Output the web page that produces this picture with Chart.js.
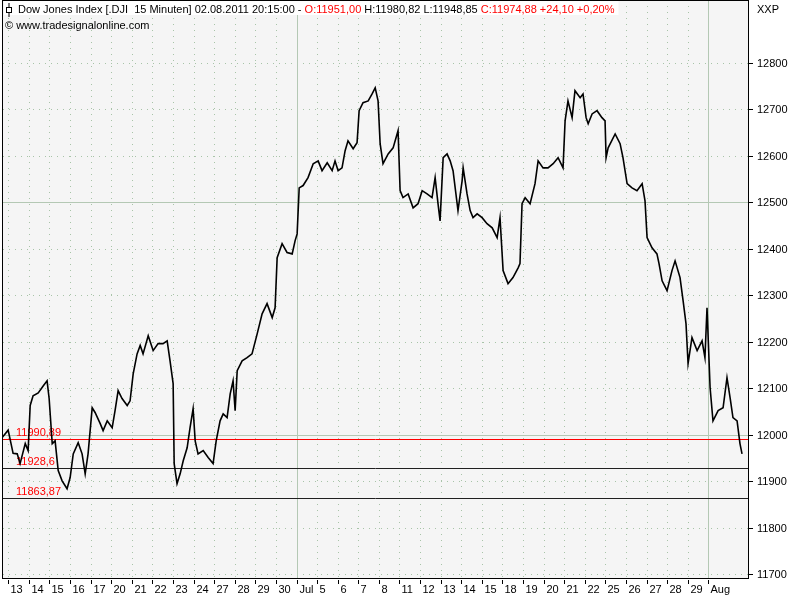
<!DOCTYPE html>
<html>
<head>
<meta charset="utf-8">
<script src="https://cdn.jsdelivr.net/npm/chart.js@4"></script>
<style>
  html, body { margin: 0; padding: 0; background: #fff; }
  #wrap { width: 800px; height: 600px; }
</style>
</head>
<body>
<div id="wrap"><canvas id="c" width="800" height="600"></canvas></div>
<script>
// Trading-day labels (one tick per session, starting 13 June 2011)
const dayLabels = ['13','14','15','16','17','20','21','22','23','24','27','28','29','30','Jul','5','6','7','8',
  '11','12','13','14','15','18','19','20','21','22','25','26','27','28','29','Aug'];
const yTicks = [11700,11800,11900,12000,12100,12200,12300,12400,12500,12600,12700,12800];

// Session offset (days since 13 June open) and index level
const days = [-0.29,0,0.24,0.44,0.58,0.83,0.97,1.07,1.21,1.46,1.70,1.89,1.99,2.14,2.28,2.43,2.62,2.86,3.01,3.16,
  3.40,3.59,3.74,3.88,4.08,4.22,4.47,4.61,4.81,5.05,5.19,5.34,5.53,5.78,5.92,6.07,6.26,6.41,6.55,6.80,
  7.04,7.28,7.52,7.72,7.86,8.01,8.06,8.20,8.35,8.50,8.69,8.83,8.98,9.08,9.22,9.47,9.71,9.95,10.10,10.29,
  10.44,10.63,10.78,10.92,11.02,11.12,11.36,11.60,11.84,12.09,12.33,12.57,12.82,12.96,13.06,13.30,13.54,13.79,13.93,14.03,
  14.13,14.32,14.56,14.81,15.05,15.24,15.49,15.73,15.87,16.02,16.21,16.36,16.50,16.75,16.94,17.04,17.23,17.48,17.67,17.82,
  17.96,18.06,18.20,18.45,18.69,18.93,19.03,19.17,19.42,19.66,19.90,20.10,20.34,20.58,20.73,20.87,20.97,21.12,21.31,21.46,
  21.60,21.84,22.04,22.09,22.28,22.43,22.57,22.77,23.01,23.25,23.50,23.74,23.88,24.03,24.27,24.51,24.76,24.85,24.95,25.10,
  25.34,25.58,25.73,25.97,26.21,26.46,26.70,26.94,27.04,27.18,27.38,27.52,27.77,27.91,28.06,28.16,28.35,28.59,28.83,28.98,
  29.03,29.13,29.47,29.71,29.85,30.05,30.29,30.53,30.78,30.92,31.02,31.26,31.50,31.60,31.75,31.99,32.23,32.38,32.62,32.77,
  32.91,33.01,33.20,33.45,33.69,33.83,33.93,34.08,34.22,34.47,34.71,34.90,35.05,35.19,35.39,35.53,35.63];
const closes = [11994,12010,11960,11959,11938,11981,11966,12063,12084,12090,12105,12116,12078,11981,11987,11923,11901,11884,11908,11959,
  11983,11959,11916,11959,12058,12048,12024,12009,12030,12015,12052,12095,12078,12063,12073,12131,12174,12192,12174,12213,
  12181,12196,12196,12202,12159,12110,11938,11895,11916,11944,11972,12015,12056,11987,11959,11966,11951,11938,11987,12030,
  12045,12037,12088,12116,12052,12138,12159,12166,12174,12217,12260,12282,12252,12273,12381,12411,12392,12389,12417,12432,
  12531,12536,12553,12583,12589,12568,12585,12568,12589,12568,12574,12611,12632,12615,12628,12697,12714,12718,12733,12746,
  12718,12626,12583,12604,12617,12654,12525,12510,12518,12488,12497,12525,12518,12510,12553,12497,12460,12596,12604,12589,
  12568,12482,12546,12574,12518,12482,12467,12475,12467,12454,12445,12424,12467,12353,12325,12338,12359,12368,12497,12510,
  12497,12540,12589,12574,12574,12583,12596,12574,12675,12718,12682,12740,12725,12733,12682,12669,12690,12697,12682,12675,
  12596,12617,12647,12626,12596,12540,12531,12525,12540,12503,12424,12402,12389,12368,12331,12310,12353,12374,12338,12288,
  12239,12153,12209,12181,12202,12166,12273,12101,12030,12052,12058,12123,12080,12037,12030,11981,11959];

const refLevels = [11990.89, 11928.6, 11863.87];
const refLabels = ['11990,89', '11928,6', '11863,87'];

const FONT = '11px "Liberation Sans", sans-serif';
const GRID = '#a8c4a8';

const overlay = {
  id: 'overlay',
  beforeDatasetsDraw(chart) {
    const { ctx, chartArea: a, scales: { x, y } } = chart;
    ctx.save();
    ctx.fillStyle = '#f5f5f5';
    ctx.fillRect(a.left, a.top, a.right - a.left, a.bottom - a.top);
    ctx.lineWidth = 1;
    // dotted grid
    ctx.strokeStyle = GRID;
    ctx.setLineDash([1, 5]);
    dayLabels.forEach((lab, i) => {
      if (lab === 'Jul' || lab === 'Aug') return;
      const px = Math.round(x.getPixelForValue(i)) + 0.5;
      ctx.beginPath(); ctx.moveTo(px, a.top); ctx.lineTo(px, a.bottom); ctx.stroke();
    });
    yTicks.forEach(v => {
      if (v === 12500 || v === 12000) return;
      const py = Math.round(y.getPixelForValue(v)) + 0.5;
      ctx.beginPath(); ctx.moveTo(a.left, py); ctx.lineTo(a.right, py); ctx.stroke();
    });
    ctx.setLineDash([]);
    ctx.strokeStyle = '#b4c8b4';
    ['Jul', 'Aug'].forEach(l => {
      const px = Math.round(x.getPixelForValue(dayLabels.indexOf(l))) + 0.5;
      ctx.beginPath(); ctx.moveTo(px, a.top); ctx.lineTo(px, a.bottom); ctx.stroke();
    });
    [12500, 12000].forEach(v => {
      const py = Math.round(y.getPixelForValue(v)) + 0.5;
      ctx.beginPath(); ctx.moveTo(a.left, py); ctx.lineTo(a.right, py); ctx.stroke();
    });
    // reference levels
    ctx.font = FONT;
    ctx.textBaseline = 'bottom';
    refLevels.forEach((v, i) => {
      const py = Math.round(y.getPixelForValue(v)) + 0.5;
      ctx.strokeStyle = i === 0 ? '#ff0000' : '#202020';
      ctx.beginPath(); ctx.moveTo(a.left, py); ctx.lineTo(a.right, py); ctx.stroke();
      ctx.fillStyle = '#ff0000';
      ctx.fillText(refLabels[i], a.left + 13, py - 1);
    });
    ctx.restore();
  },
  afterDraw(chart) {
    const { ctx, chartArea: a, scales: { x, y } } = chart;
    ctx.save();
    ctx.strokeStyle = '#000';
    ctx.lineWidth = 1;
    ctx.strokeRect(a.left - 0.5, a.top + 0.5, a.right - a.left + 1, a.bottom - a.top);
    ctx.font = FONT;
    ctx.fillStyle = '#000';
    // right axis
    ctx.textBaseline = 'middle';
    yTicks.forEach(v => {
      const py = Math.round(y.getPixelForValue(v)) + 0.5;
      ctx.beginPath(); ctx.moveTo(a.right, py); ctx.lineTo(a.right + 5, py); ctx.stroke();
      ctx.fillText(String(v), a.right + 9, py);
    });
    ctx.fillText('XXP', a.right + 9, 10);
    // bottom axis
    ctx.textBaseline = 'top';
    dayLabels.forEach((lab, i) => {
      const px = Math.round(x.getPixelForValue(i)) + 0.5;
      ctx.beginPath(); ctx.moveTo(px, a.bottom + 2); ctx.lineTo(px, a.bottom + 6); ctx.stroke();
      ctx.fillText(lab, px + 2, a.bottom + 6);
    });
    // header
    ctx.textBaseline = 'middle';
    let cx = 18;
    const parts = [
      ['Dow Jones Index [.DJI  15 Minuten] 02.08.2011 20:15:00 - ', '#000'],
      ['O:11951,00', '#ff0000'],
      [' H:11980,82 L:11948,85 ', '#000'],
      ['C:11974,88 +24,10 +0,20%', '#ff0000']
    ];
    ctx.fillStyle = '#fff';
    let w = parts.reduce((s, p) => s + ctx.measureText(p[0]).width, 0);
    ctx.fillRect(a.left + 1, a.top + 1, w + 18, 14);
    parts.forEach(([t, c]) => { ctx.fillStyle = c; ctx.fillText(t, cx, 10); cx += ctx.measureText(t).width; });
    // candle glyph
    ctx.strokeStyle = '#000';
    ctx.strokeRect(6.5, 7.5, 5, 5);
    ctx.beginPath(); ctx.moveTo(9, 3); ctx.lineTo(9, 7.5); ctx.moveTo(9, 12.5); ctx.lineTo(9, 17); ctx.stroke();
    ctx.fillStyle = '#000';
    ctx.fillText('\u00a9 www.tradesignalonline.com', 5, 26);
    ctx.restore();
  }
};

new Chart(document.getElementById('c'), {
  type: 'line',
  data: {
    datasets: [{
      data: days.map((d, i) => ({ x: d, y: closes[i] })),
      borderColor: '#000',
      borderWidth: 1.6,
      pointRadius: 0,
      tension: 0,
      fill: false
    }]
  },
  options: {
    responsive: false,
    animation: false,
    layout: { padding: { left: 3, right: 52, top: 0, bottom: 22 } },
    plugins: { legend: { display: false }, tooltip: { enabled: false } },
    scales: {
      x: { type: 'linear', min: -0.25, max: 35.92, display: false },
      y: { type: 'linear', min: 11692, max: 12935, display: false }
    }
  },
  plugins: [overlay]
});
</script>
</body>
</html>
